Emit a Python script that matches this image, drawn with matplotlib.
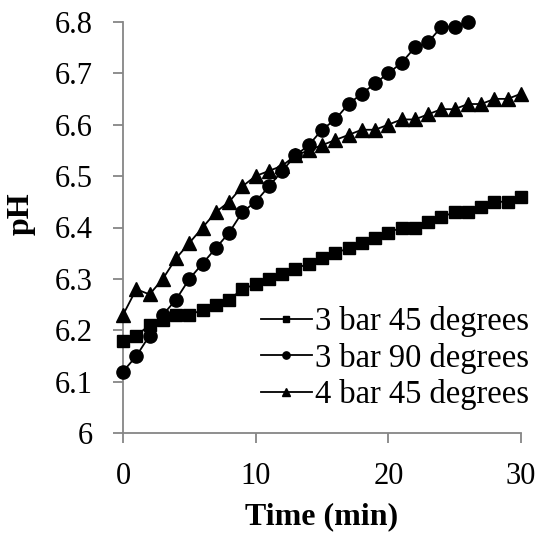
import matplotlib
matplotlib.use("Agg")
import matplotlib.pyplot as plt
import numpy as np

plt.rcParams['font.family'] = ['Liberation Serif', 'DejaVu Serif']

t_a = list(range(0, 31))
ph_3bar45 = [6.18, 6.19, 6.21, 6.22, 6.23, 6.23, 6.24, 6.25, 6.26, 6.28, 6.29,
             6.30, 6.31, 6.32, 6.33, 6.34, 6.35, 6.36, 6.37, 6.38, 6.39, 6.40,
             6.40, 6.41, 6.42, 6.43, 6.43, 6.44, 6.45, 6.45, 6.46]
t_b = list(range(0, 27))
ph_3bar90 = [6.12, 6.15, 6.19, 6.23, 6.26, 6.30, 6.33, 6.36, 6.39, 6.43, 6.45,
             6.48, 6.51, 6.54, 6.56, 6.59, 6.61, 6.64, 6.66, 6.68, 6.70, 6.72,
             6.75, 6.76, 6.79, 6.79, 6.80]
t_c = list(range(0, 31))
ph_4bar45 = [6.23, 6.28, 6.27, 6.30, 6.34, 6.37, 6.40, 6.43, 6.45, 6.48, 6.50,
             6.51, 6.52, 6.54, 6.55, 6.56, 6.57, 6.58, 6.59, 6.59, 6.60, 6.61,
             6.61, 6.62, 6.63, 6.63, 6.64, 6.64, 6.65, 6.65, 6.66]
labels = ["3 bar 45 degrees", "3 bar 90 degrees", "4 bar 45 degrees"]
xticks = [0, 10, 20, 30]
yticks = [6.0, 6.1, 6.2, 6.3, 6.4, 6.5, 6.6, 6.7, 6.8]
ytick_labels = ["6", "6.1", "6.2", "6.3", "6.4", "6.5", "6.6", "6.7", "6.8"]

fig = plt.figure(figsize=(5.43, 5.37), dpi=100)
ax = fig.add_axes([123/543, 1-433.3/537, (521-123)/543, (433.3-21.7)/537])

ax.plot(t_a, ph_3bar45, color='black', lw=1.3, marker='s', ms=9, label=labels[0], clip_on=False, zorder=3)
ax.plot(t_b, ph_3bar90, color='black', lw=1.3, marker='o', ms=9.5, label=labels[1], clip_on=False, zorder=3)
ax.plot(t_c, ph_4bar45, color='black', lw=1.3, marker='^', ms=9.5, label=labels[2], clip_on=False, zorder=3)

ax.set_xlim(0, 30)
ax.set_ylim(6.0, 6.8)
ax.set_xticks(xticks)
ax.set_yticks(yticks)
ax.set_yticklabels(ytick_labels)

for s in ['top', 'right']:
    ax.spines[s].set_visible(False)
for s in ['left', 'bottom']:
    ax.spines[s].set_color('#868686')
    ax.spines[s].set_linewidth(1.3)
ax.tick_params(axis='both', direction='out', length=7, width=1.3, color='#868686',
               labelsize=22, labelcolor='black')
ax.tick_params(axis='x', pad=14)
ax.tick_params(axis='y', pad=15)

ax.set_xlabel("Time (min)", fontsize=23, fontweight='bold', labelpad=8)
ax.set_ylabel("pH", fontsize=23, fontweight='bold')
ax.yaxis.set_label_coords(-0.22, 0.533)

leg = ax.legend(loc='lower right', bbox_to_anchor=(1.065, 0.012), frameon=False,
                fontsize=23.5, markerscale=0.55, handlelength=1.55, handletextpad=0.1,
                labelspacing=0.17, borderaxespad=0.15)

fig.savefig("out.png", dpi=100)
